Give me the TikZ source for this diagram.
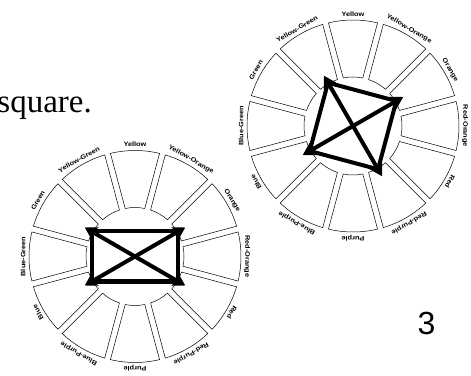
\documentclass[tikz,border=0pt]{standalone}
\usepackage{fontspec}
\usetikzlibrary{arrows.meta}
\newfontfamily\slidefont{Liberation Serif}
\newfontfamily\numfont{Liberation Sans}
\newfontfamily\wheelfont[FakeStretch=1.15]{Liberation Sans}

\begin{document}
\begin{tikzpicture}[
  x=1pt, y=1pt,
  sector/.style={draw, line width=0.5pt},
  wlabel/.style={font=\wheelfont\bfseries\fontsize{6.4}{6.4}\selectfont, inner sep=0pt},
  edge/.style={line width=4pt, line join=miter},
  tetra/.style={line width=4pt, {Stealth[length=12pt,width=14pt,inset=3pt]}-{Stealth[length=12pt,width=14pt,inset=3pt]},
                shorten <=-8pt, shorten >=-8pt}
]
\useasboundingbox (0,0) rectangle (471,375);

\node[font=\slidefont\fontsize{33}{38}\selectfont, anchor=base east, inner sep=0pt] (caption) at (92,262) {square.};
\node[font=\numfont\fontsize{32}{36}\selectfont, inner sep=0pt] (pagenum) at (426.5,51.5) {3};

% the two colour wheels
\foreach \w/\cx/\cy in {l/135/118.5, u/353/249} {
  \begin{scope}[shift={(\cx,\cy)}]
    \foreach \name [count=\i from 0] in {Yellow,Yellow-Orange,Orange,Red-Orange,Red,Red-Purple,Purple,Blue-Purple,Blue,Blue-Green,Green,Yellow-Green} {
      \pgfmathsetmacro\a{90-30*\i}
      \draw[sector] (\a+13.4:106) arc[start angle=\a+13.4, end angle=\a-13.4, radius=106]
        -- (\a-11.5:49) arc[start angle=\a-11.5, end angle=\a+11.5, radius=49] -- cycle;
      \node[wlabel, rotate=\a-90] (\w\i) at (\a:112) {\name};
    }
  \end{scope}
}

% rectangle on the lower wheel
\begin{scope}[shift={(135,118.5)}]
  \coordinate (lgreen)  at (150:50);
  \coordinate (lorange) at (30:50);
  \coordinate (lred)    at (-30:50);
  \coordinate (lblue)   at (-150:50);
\end{scope}
\draw[edge] (lgreen) -- (lorange) -- (lred) -- (lblue) -- cycle;
\draw[tetra] (lgreen) -- (lred);
\draw[tetra] (lorange) -- (lblue);

% square on the upper wheel
\begin{scope}[shift={(353,249)}]
  \coordinate (uyg)     at (120:50);
  \coordinate (uorange) at (30:50);
  \coordinate (urp)     at (-60:50);
  \coordinate (ublue)   at (-150:50);
\end{scope}
\draw[edge] (uyg) -- (uorange) -- (urp) -- (ublue) -- cycle;
\draw[tetra] (uyg) -- (urp);
\draw[tetra] (uorange) -- (ublue);
\end{tikzpicture}
\end{document}
